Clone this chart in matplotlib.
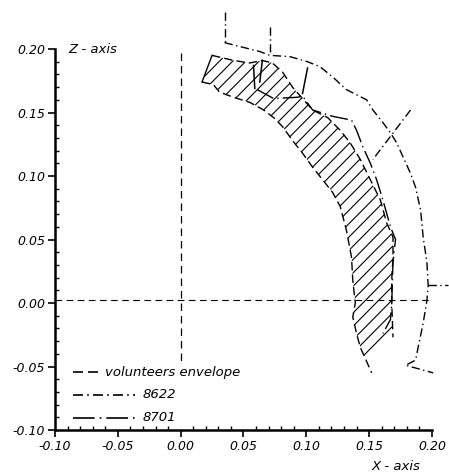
import matplotlib
matplotlib.use("Agg")
import matplotlib.pyplot as plt
from matplotlib.patches import Polygon
import numpy as np

# volunteers envelope (hatched band), outer and inner edge
env_outer_x = [0.025, 0.042, 0.055, 0.065, 0.073, 0.081, 0.089, 0.097, 0.105, 0.117, 0.127,
               0.135, 0.143, 0.151, 0.159, 0.164, 0.169, 0.169, 0.168, 0.168, 0.169]
env_outer_z = [0.195, 0.191, 0.189, 0.191, 0.189, 0.182, 0.170, 0.161, 0.152, 0.146, 0.136,
               0.126, 0.113, 0.097, 0.081, 0.063, 0.052, 0.036, 0.018, 0.000, -0.027]
env_inner_x = [0.017, 0.026, 0.031, 0.042, 0.055, 0.066, 0.074, 0.081, 0.089, 0.097, 0.105,
               0.113, 0.121, 0.127, 0.132, 0.136, 0.137, 0.139, 0.137, 0.140, 0.143, 0.148, 0.152]
env_inner_z = [0.174, 0.172, 0.166, 0.162, 0.158, 0.152, 0.146, 0.139, 0.128, 0.118, 0.107,
               0.097, 0.087, 0.076, 0.057, 0.036, 0.018, 0.000, -0.011, -0.024, -0.035, -0.046, -0.055]

# test 8622 head path
t8622_x = [0.035, 0.047, 0.063, 0.071, 0.087, 0.101, 0.111, 0.121, 0.132, 0.148, 0.153, 0.161,
           0.167, 0.172, 0.177, 0.183, 0.187, 0.191, 0.193, 0.196, 0.197, 0.196, 0.193, 0.189,
           0.187, 0.179, 0.201]
t8622_z = [0.205, 0.202, 0.198, 0.195, 0.194, 0.190, 0.186, 0.178, 0.168, 0.160, 0.152, 0.142,
           0.134, 0.126, 0.115, 0.102, 0.091, 0.073, 0.052, 0.032, 0.014, 0.002, -0.016, -0.035,
           -0.045, -0.049, -0.055]
# orientation strokes for 8622: (x0, z0, x1, z1)
t8622_strokes = [(0.035, 0.229, 0.035, 0.205),
                 (0.071, 0.217, 0.071, 0.197),
                 (0.183, 0.152, 0.153, 0.113),
                 (0.197, 0.014, 0.213, 0.014)]

# test 8701 head path
t8701_x = [0.061, 0.074, 0.093, 0.097, 0.105, 0.121, 0.136, 0.140, 0.145, 0.151, 0.156, 0.161,
           0.167, 0.171, 0.169, 0.168, 0.167, 0.161]
t8701_z = [0.168, 0.161, 0.162, 0.163, 0.152, 0.147, 0.144, 0.136, 0.123, 0.110, 0.097, 0.081,
           0.060, 0.050, 0.032, 0.000, -0.013, -0.024]
t8701_strokes = [(0.058, 0.187, 0.059, 0.169),
                 (0.065, 0.191, 0.063, 0.174),
                 (0.101, 0.185, 0.097, 0.165)]

ticks = [-0.10, -0.05, 0.00, 0.05, 0.10, 0.15, 0.20]
tick_labels = ["-0.10", "-0.05", "0.00", "0.05", "0.10", "0.15", "0.20"]

plt.rcParams['font.family'] = ['DejaVu Sans']
plt.rcParams['font.style'] = 'italic'

fig = plt.figure(figsize=(4.49, 4.74), dpi=100)
ax = fig.add_axes([0.1225, 0.0928, 0.8395, 0.8038])
ax.set_xlim(-0.10, 0.20)
ax.set_ylim(-0.10, 0.20)

dash_env = (0, (6, 3))
dash_8622 = (0, (6, 2.5, 1, 2.5))
dash_8701 = (0, (13, 3, 1, 3))

# reference axes through the origin
ax.plot([-0.10, 0.198], [0.002, 0.002], color='black', lw=0.8, ls=(0, (6, 4)))
ax.plot([0.0, 0.0], [0.197, -0.047], color='black', lw=0.9, ls=(0, (6, 4)))

# hatched envelope: diagonal lines clipped to the band
poly_x = env_outer_x + env_inner_x[-2::-1]
poly_z = env_outer_z + env_inner_z[-2::-1]
band = Polygon(np.column_stack([poly_x, poly_z]), closed=True, facecolor='none', edgecolor='none')
ax.add_patch(band)
hx = np.array([0.0, 0.2])
for c in np.arange(-0.25, 0.25, 0.0105):
    ln, = ax.plot(hx, hx + c, color='black', lw=0.8)
    ln.set_clip_path(band)
ax.plot(env_outer_x, env_outer_z, color='black', lw=1.0, ls=dash_env)
ax.plot(env_inner_x, env_inner_z, color='black', lw=1.0, ls=dash_env)
ax.plot([env_outer_x[0], env_inner_x[0]], [env_outer_z[0], env_inner_z[0]], color='black', lw=1.0)

ax.plot(t8622_x, t8622_z, color='black', lw=1.0, ls=dash_8622, clip_on=False)
for x0, z0, x1, z1 in t8622_strokes:
    ax.plot([x0, x1], [z0, z1], color='black', lw=1.0, ls=dash_8622, clip_on=False)
ax.plot(t8701_x, t8701_z, color='black', lw=1.0, ls=dash_8701, clip_on=False)
for x0, z0, x1, z1 in t8701_strokes:
    ax.plot([x0, x1], [z0, z1], color='black', lw=1.1, clip_on=False)

# axes styling
for side in ['top', 'right']:
    ax.spines[side].set_visible(False)
for side in ['left', 'bottom']:
    ax.spines[side].set_linewidth(1.8)
ax.set_xticks(ticks)
ax.set_xticklabels(tick_labels)
ax.set_yticks(ticks)
ax.set_yticklabels(tick_labels)
ax.set_xticks(np.arange(-0.10, 0.2001, 0.01), minor=True)
ax.set_yticks(np.arange(-0.10, 0.2001, 0.01), minor=True)
ax.tick_params(which='major', direction='out', length=5, width=1.2, labelsize=9, pad=2)
ax.tick_params(which='minor', direction='in', length=3, width=1.0)

ax.text(0.035, 1.0, "Z - axis", transform=ax.transAxes, fontsize=9.5, va='center', ha='left')
ax.text(0.905, -0.095, "X - axis", transform=ax.transAxes, fontsize=9.5, va='center', ha='center')

# legend drawn by hand
legend_rows = [("volunteers envelope", dash_env, 0.072, 0.138),
               ("8622", dash_8622, 0.072, 0.237),
               ("8701", dash_8701, 0.072, 0.237)]
for i, (label, style, x0, x1) in enumerate(legend_rows):
    y = 0.152 - i * 0.060
    ax.plot([x0 - 0.025, x1 - 0.025], [y, y], transform=ax.transAxes, color='black', lw=1.2, ls=style)
    ax.text(x1 - 0.005, y, label, transform=ax.transAxes, fontsize=9.5, va='center', ha='left')

fig.savefig("out.png", dpi=100)
